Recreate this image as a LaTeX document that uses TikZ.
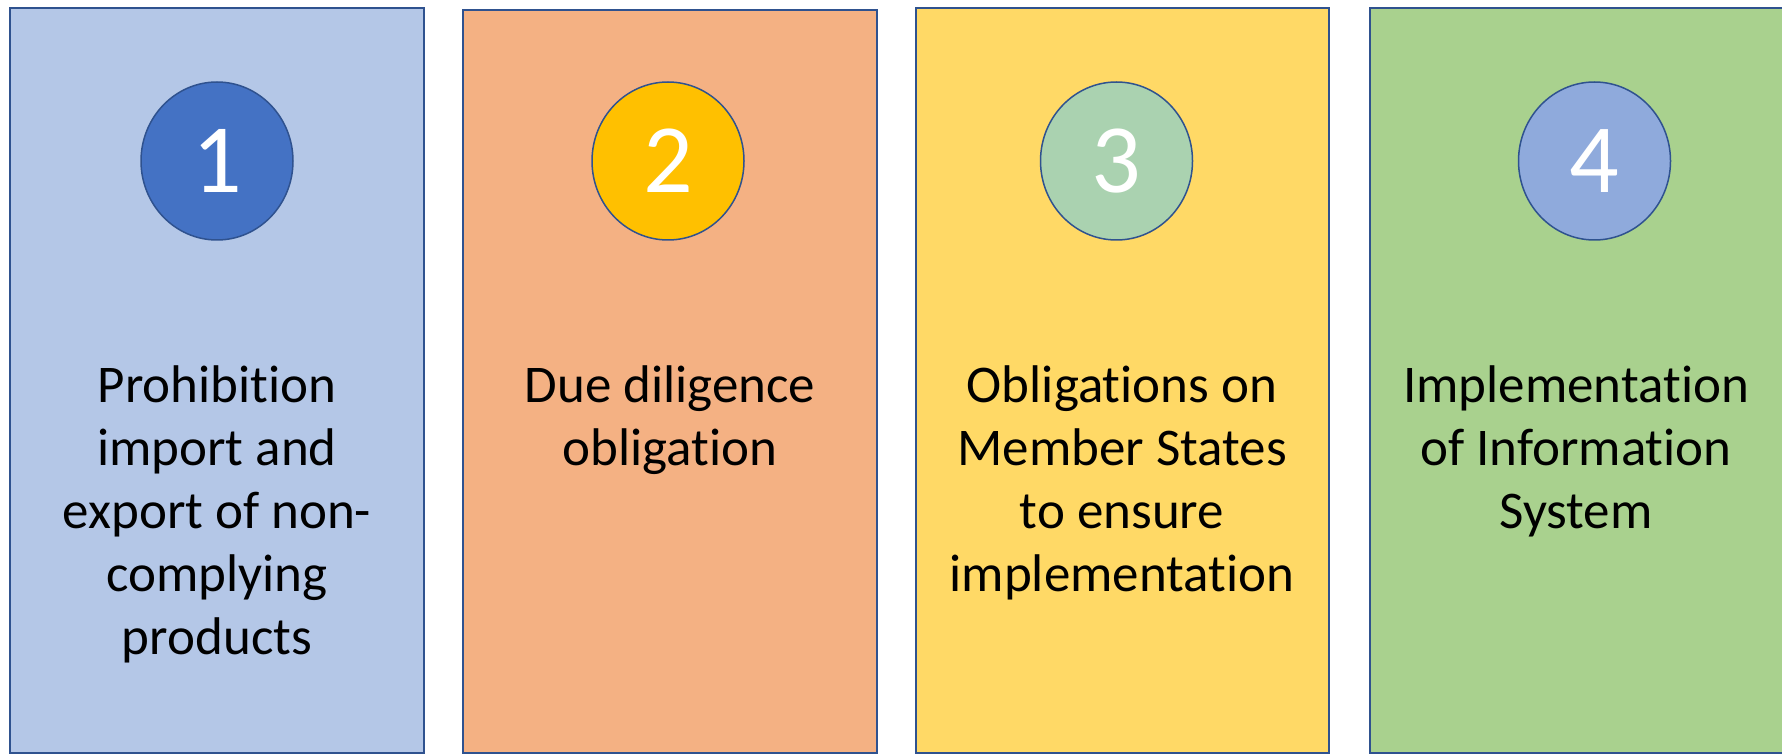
\documentclass[tikz,border=0pt]{standalone}
\usepackage{fontspec}
\setmainfont{Carlito}[Ligatures=NoCommon]
\usetikzlibrary{shapes.geometric}

\definecolor{edgeblue}{HTML}{2F528F}
\definecolor{paneA}{HTML}{B4C7E7}
\definecolor{paneB}{HTML}{F4B183}
\definecolor{paneC}{HTML}{FFD966}
\definecolor{paneD}{HTML}{A9D18E}
\definecolor{dotA}{HTML}{4472C4}
\definecolor{dotB}{HTML}{FFC000}
\definecolor{dotC}{HTML}{AAD2B0}
\definecolor{dotD}{HTML}{8FAADC}

\tikzset{
  panel/.style={draw=edgeblue, line width=0.75pt},
  badge/.style={ellipse, draw=edgeblue, line width=0.75pt, inner sep=0pt,
    minimum width=76pt, minimum height=79pt, text=white,
    font=\fontsize{49}{49}\selectfont},
  caption/.style={anchor=north, align=center, inner sep=0pt,
    font=\fontsize{26.5}{31.5}\selectfont}
}

\begin{document}
\begin{tikzpicture}[x=0.5pt, y=-0.5pt]
    \clip (0,0) rectangle (1782,754);
    \useasboundingbox (0,0) rectangle (1782,754);

    \draw[panel, fill=paneA] (10,8) rectangle (424,753);
    \draw[panel, fill=paneB] (463,10) rectangle (877,753);
    \draw[panel, fill=paneC] (916,8) rectangle (1329,753);
    \draw[panel, fill=paneD] (1370,8) rectangle (1784,753);

    \node[badge, fill=dotA] (one) at (217,161) {1};
    \node[badge, fill=dotB] (two) at (668,161) {2};
    \node[badge, fill=dotC] (three) at (1116.5,161) {3};
    \node[badge, fill=dotD] (four) at (1594.5,161) {4};

    \node[caption] (ban) at (217,365) {Prohibition\\import and\\export of non-\\complying\\products};
    \node[caption] (diligence) at (670,365) {Due diligence\\obligation};
    \node[caption] (states) at (1122,365) {Obligations on\\Member States\\to ensure\\implementation};
    \node[caption] (system) at (1576,365) {Implementation\\of Information\\System};
\end{tikzpicture}
\end{document}
